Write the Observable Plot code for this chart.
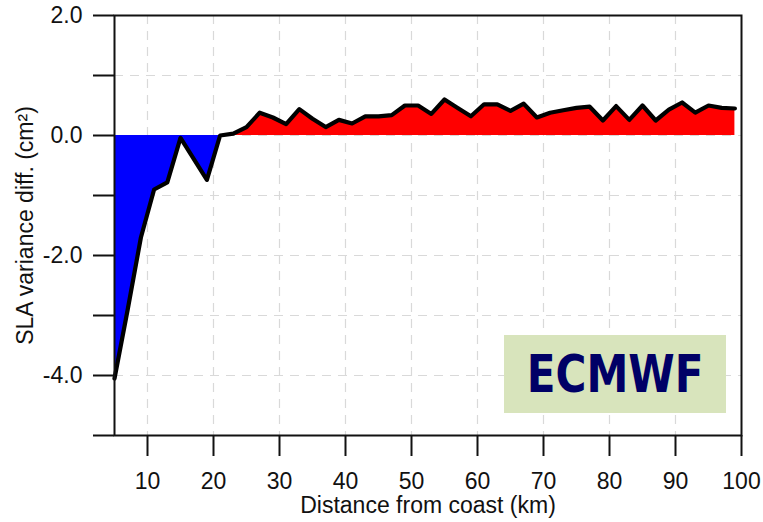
<!DOCTYPE html>
<html>
<head>
<meta charset="utf-8">
<script src="https://cdn.jsdelivr.net/npm/d3@7"></script>
<script src="https://cdn.jsdelivr.net/npm/@observablehq/plot@0.6"></script>
<style>
  html, body { margin: 0; padding: 0; background: #fff; }
  #wrap { position: relative; width: 763px; height: 522px; }
  #tag { position: absolute; left: 504px; top: 335px; width: 222px; height: 78px;
         background: #d8e4bc; display: flex; align-items: center; justify-content: center; overflow: visible; }
  #tag span { font-family: 'DejaVu Sans', sans-serif; font-weight: bold; font-size: 52px; color: #000066;
              display: inline-block; transform: scaleX(0.81); white-space: nowrap; line-height: 1; }
</style>
</head>
<body>
<div id="wrap"></div>
<script>
// Distance from coast (km)
const distance = [5,7,9,11,13,15,17,19,21,23,25,27,29,31,33,35,37,39,41,43,45,47,49,51,53,55,57,59,61,63,65,67,69,71,73,75,77,79,81,83,85,87,89,91,93,95,97,99];
// SLA variance difference (cm^2)
const slaDiff = [-4.05,-2.9,-1.7,-0.9,-0.78,-0.04,-0.39,-0.74,0.0,0.03,0.14,0.38,0.3,0.19,0.44,0.28,0.14,0.26,0.2,0.32,0.32,0.34,0.5,0.5,0.36,0.6,0.46,0.32,0.52,0.52,0.41,0.53,0.3,0.38,0.42,0.46,0.48,0.25,0.49,0.26,0.5,0.25,0.43,0.55,0.38,0.5,0.46,0.45];

const xTicks = [10,20,30,40,50,60,70,80,90,100];
const yMajor = [2,0,-2,-4];
const yMinor = [1,-1,-3,-5];
const xGrid = [10,20,30,40,50,60,70,80,90];
const yGrid = [1,0,-1,-2,-3,-4];
const tagText = "ECMWF";

const data = distance.map((d, i) => ({x: d, y: slaDiff[i]}));

const chart = Plot.plot({
  width: 763,
  height: 522,
  marginLeft: 114,
  marginRight: 22,
  marginTop: 15,
  marginBottom: 87,
  style: {fontFamily: "'Liberation Sans', Arial, sans-serif", fontSize: "22px", color: "#111", background: "#fff"},
  x: {domain: [5, 100]},
  y: {domain: [-5, 2]},
  marks: [
    Plot.gridX(xGrid, {stroke: "#d9d9d9", strokeOpacity: 1, strokeWidth: 1.2, strokeDasharray: "9,7"}),
    Plot.gridY(yGrid, {stroke: "#d9d9d9", strokeOpacity: 1, strokeWidth: 1.2, strokeDasharray: "9,7"}),
    Plot.areaY(data, {x: "x", y1: 0, y2: d => Math.min(d.y, 0), fill: "#0000ff"}),
    Plot.areaY(data, {x: "x", y1: 0, y2: d => Math.max(d.y, 0), fill: "#ff0000"}),
    Plot.line(data, {x: "x", y: "y", stroke: "black", strokeWidth: 4.2, strokeLinejoin: "round"}),
    Plot.frame({stroke: "#111", strokeWidth: 2}),
    Plot.axisX(xTicks, {tickSize: 21, tickPadding: 16, strokeWidth: 2, label: "Distance from coast (km)", labelAnchor: "center", labelArrow: "none", labelOffset: 77, fontSize: 23}),
    Plot.axisY(yMajor, {tickSize: 21, tickPadding: 11, strokeWidth: 2, tickFormat: d => d.toFixed(1), label: "SLA variance diff. (cm²)", labelAnchor: "center", labelArrow: "none", labelOffset: 98, fontSize: 23}),
    Plot.axisY(yMinor, {tickSize: 21, strokeWidth: 2, tickFormat: () => "", label: null})
  ]
});

const wrap = document.getElementById("wrap");
wrap.appendChild(chart);

// label box
const tag = d3.select(wrap).append("div").attr("id", "tag");
tag.append("span").text(tagText);
</script>
</body>
</html>
